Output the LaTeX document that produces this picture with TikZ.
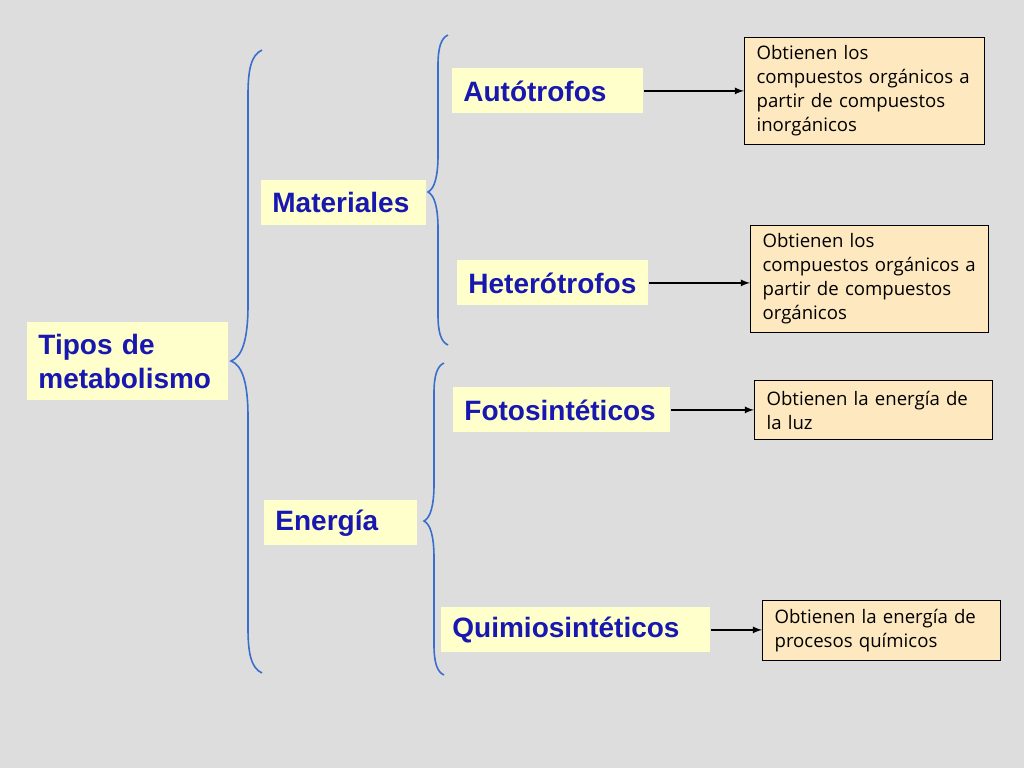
\documentclass[tikz,border=0pt]{standalone}
\usepackage{fontspec}
\setmainfont{Liberation Sans}
\newfontfamily\cajafont{Open Sans}
\definecolor{fondo}{RGB}{221,221,221}
\definecolor{azultexto}{RGB}{24,24,176}
\definecolor{azulllave}{RGB}{58,110,205}
\definecolor{amarillo}{RGB}{255,255,204}
\definecolor{durazno}{RGB}{253,232,192}
\newcommand{\cajatxt}{\cajafont\fontsize{9.3}{12}\selectfont}

\begin{document}
\begin{tikzpicture}[x=0.5pt,y=-0.5pt]
                        \tikzstyle{tipo}=[anchor=north west, fill=amarillo, text=azultexto, font=\bfseries\fontsize{14}{17}\selectfont, align=left, inner xsep=5.5pt, inner ysep=0pt, minimum height=22.5pt]
                        \tikzstyle{caja}=[anchor=north west, draw=black, line width=0.6pt, fill=durazno, font=\cajatxt, align=left, inner xsep=6pt, inner ysep=0pt]
                        \tikzstyle{llave}=[draw=azulllave, line width=0.8pt]
                        \tikzstyle{flecha}=[->, >=latex, line width=0.6pt]
                        \fill[fondo] (0,0) rectangle (1024,768);
                        \node[tipo, text width=89.5pt, minimum height=39pt] (tipos) at (27,322) {Tipos de\\metabolismo};
                        \node[tipo, text width=71.5pt] (mat) at (261,180) {Materiales};
                        \node[tipo, text width=65.5pt] (ener) at (264,500) {Energía};
                        \node[tipo, text width=84.5pt] (auto) at (452,68) {Autótrofos};
                        \node[tipo, text width=84.5pt] (hetero) at (457,260) {Heterótrofos};
                        \node[tipo, text width=97.5pt] (foto) at (453,387) {Fotosintéticos};
                        \node[tipo, text width=123.5pt] (quimio) at (441,607) {Quimiosintéticos};
                        \node[caja, text width=108pt, minimum height=53.5pt] (obt1) at (744,37)
                            {Obtienen los\\compuestos orgánicos a\\partir de compuestos\\inorgánicos};
                        \node[caja, text width=107pt, minimum height=53.5pt] (obt2) at (750,225)
                            {Obtienen los\\compuestos orgánicos a\\partir de compuestos\\orgánicos};
                        \node[caja, text width=107pt, minimum height=29.5pt] (obt3) at (754,380)
                            {Obtienen la energía de\\la luz};
                        \node[caja, text width=107pt, minimum height=30pt] (obt4) at (762,600)
                            {Obtienen la energía de\\procesos químicos};
                        \draw[llave] (262,50) .. controls (251,55) and (248,70) .. (248,95) -- (248,305)
                            .. controls (248,340) and (242,357) .. (231,361)
                            .. controls (242,365) and (248,382) .. (248,417) -- (248,628)
                            .. controls (248,653) and (251,668) .. (262,673);
                        \draw[llave] (448,35) .. controls (441,38) and (438,48) .. (438,65) -- (438,155)
                            .. controls (438,178) and (434,189) .. (428,192)
                            .. controls (434,195) and (438,206) .. (438,229) -- (438,315)
                            .. controls (438,332) and (441,342) .. (448,345);
                        \draw[llave] (444,363) .. controls (437,366) and (434,376) .. (434,393) -- (434,484)
                            .. controls (434,507) and (430,518) .. (424,521)
                            .. controls (430,524) and (434,535) .. (434,558) -- (434,645)
                            .. controls (434,662) and (437,672) .. (444,675);
                        \draw[flecha] (auto.east) -- (auto.east -| obt1.west);
                        \draw[flecha] (hetero.east) -- (hetero.east -| obt2.west);
                        \draw[flecha] (foto.east) -- (foto.east -| obt3.west);
                        \draw[flecha] (quimio.east) -- (quimio.east -| obt4.west);
                    \end{tikzpicture}
\end{document}
